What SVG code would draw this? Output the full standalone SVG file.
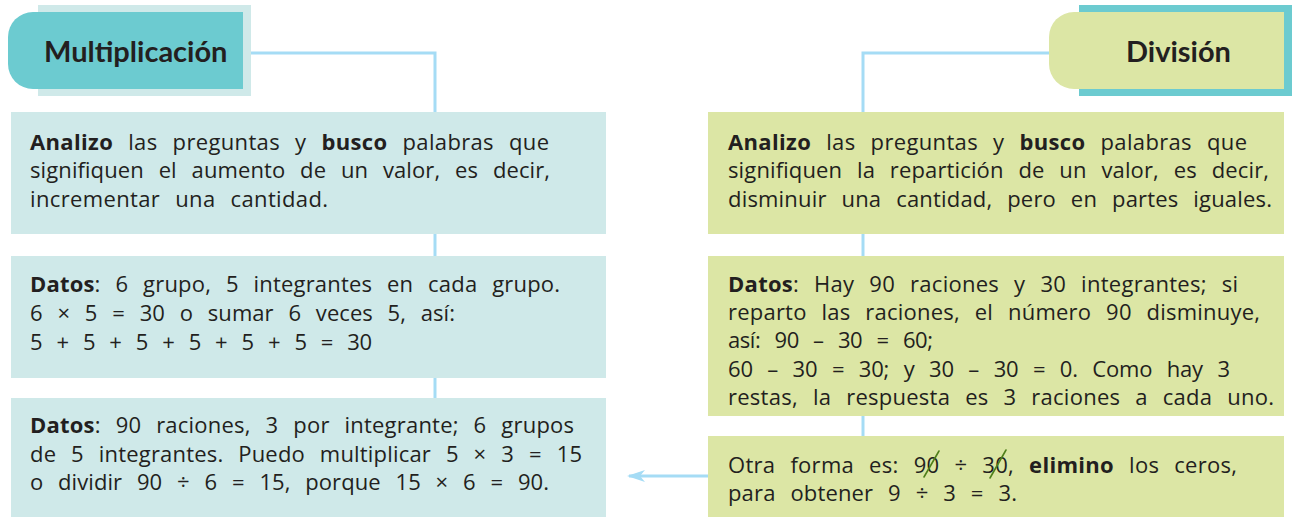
<svg xmlns="http://www.w3.org/2000/svg" width="1298" height="517" viewBox="0 0 1298 517">
<style>
.txt{font-family:"Open Sans","Liberation Sans",sans-serif;font-size:22px;fill:#231f20;word-spacing:9px}
.b{font-weight:bold}
.hd{font-family:Lato,"Liberation Sans",sans-serif;font-size:29px;font-weight:bold;fill:#231f20}
.boxm{fill:#cfe9e9}
.boxd{fill:#dce6a5}
.conn{fill:none;stroke:#a5dcf5;stroke-width:3}
.strike{stroke:#4f7f1a;stroke-width:1.6;stroke-linecap:round}
</style>
<defs>
<marker id="ah" markerWidth="20" markerHeight="14" refX="16" refY="7" orient="auto" markerUnits="userSpaceOnUse">
<path d="M18,7 L0,1 L5,7 L0,13 Z" fill="#a5dcf5"/>
</marker>
</defs>
<g id="connectors">
<polyline class="conn" points="251,53 435,53 435,112"/>
<line class="conn" x1="435" y1="234" x2="435" y2="256"/>
<line class="conn" x1="435" y1="378" x2="435" y2="398"/>
<polyline class="conn" points="1049,53 863,53 863,112"/>
<line class="conn" x1="863" y1="234" x2="863" y2="256"/>
<line class="conn" x1="863" y1="416" x2="863" y2="436"/>
<line class="conn" x1="708" y1="476" x2="629" y2="476" marker-end="url(#ah)"/>
</g>
<g id="hdr-mult">
<rect x="38" y="5" width="213" height="91" fill="#cfe9e9"/>
<path d="M243,12 H33 A25,25 0 0 0 8,37 V64 A25,25 0 0 0 33,89 H243 Z" fill="#6ccbd0"/>
<text class="hd" x="44" y="62">Multiplicación</text>
</g>
<g id="hdr-div">
<rect x="1079" y="5" width="213" height="91" fill="#6ccbd0"/>
<path d="M1284,12 H1074 A25,25 0 0 0 1049,37 V64 A25,25 0 0 0 1074,89 H1284 Z" fill="#dce6a5"/>
<text class="hd" x="1126" y="62">División</text>
</g>
<g id="m1">
<rect class="boxm" x="11" y="112" width="595" height="122"/>
<text class="txt" x="30" y="150" word-spacing="11.3" textLength="519" lengthAdjust="spacing"><tspan class="b">Analizo</tspan> las preguntas y <tspan class="b">busco</tspan> palabras que</text>
<text class="txt" x="30" y="178" word-spacing="9" textLength="520" lengthAdjust="spacing">signifiquen el aumento de un valor, es decir,</text>
<text class="txt" x="30" y="207" word-spacing="12" textLength="298" lengthAdjust="spacing">incrementar una cantidad.</text>
</g>
<g id="m2">
<rect class="boxm" x="11" y="256" width="595" height="122"/>
<text class="txt" x="30" y="292" word-spacing="10.1" textLength="530" lengthAdjust="spacing"><tspan class="b">Datos</tspan>: 6 grupo, 5 integrantes en cada grupo.</text>
<text class="txt" x="30" y="321" word-spacing="8.1" textLength="425" lengthAdjust="spacing">6 × 5 = 30 o sumar 6 veces 5, así:</text>
<text class="txt" x="30" y="350" word-spacing="8.2" textLength="342" lengthAdjust="spacing">5 + 5 + 5 + 5 + 5 + 5 = 30</text>
</g>
<g id="m3">
<rect class="boxm" x="11" y="398" width="595" height="119"/>
<text class="txt" x="30" y="433" word-spacing="10.3" textLength="544" lengthAdjust="spacing"><tspan class="b">Datos</tspan>: 90 raciones, 3 por integrante; 6 grupos</text>
<text class="txt" x="30" y="462" word-spacing="9.9" textLength="552" lengthAdjust="spacing">de 5 integrantes. Puedo multiplicar 5 × 3 = 15</text>
<text class="txt" x="30" y="490" word-spacing="7.8" textLength="519" lengthAdjust="spacing">o dividir 90 ÷ 6 = 15, porque 15 × 6 = 90.</text>
</g>
<g id="d1">
<rect class="boxd" x="708" y="112" width="576" height="122"/>
<text class="txt" x="728" y="150" word-spacing="11.3" textLength="519" lengthAdjust="spacing"><tspan class="b">Analizo</tspan> las preguntas y <tspan class="b">busco</tspan> palabras que</text>
<text class="txt" x="728" y="178" word-spacing="7.75" textLength="541" lengthAdjust="spacing">signifiquen la repartición de un valor, es decir,</text>
<text class="txt" x="728" y="207" word-spacing="10.5" textLength="544" lengthAdjust="spacing">disminuir una cantidad, pero en partes iguales.</text>
</g>
<g id="d2">
<rect class="boxd" x="708" y="256" width="576" height="160"/>
<text class="txt" x="728" y="292" word-spacing="11.9" textLength="510" lengthAdjust="spacing"><tspan class="b">Datos</tspan>: Hay 90 raciones y 30 integrantes; si</text>
<text class="txt" x="728" y="320" word-spacing="10" textLength="532" lengthAdjust="spacing">reparto las raciones, el número 90 disminuye,</text>
<text class="txt" x="728" y="348" word-spacing="7.4" textLength="205" lengthAdjust="spacing">así: 90 – 30 = 60;</text>
<text class="txt" x="728" y="377" word-spacing="9.1" textLength="502" lengthAdjust="spacing">60 – 30 = 30; y 30 – 30 = 0. Como hay 3</text>
<text class="txt" x="728" y="405" word-spacing="10.75" textLength="546" lengthAdjust="spacing">restas, la respuesta es 3 raciones a cada uno.</text>
</g>
<g id="d3">
<rect class="boxd" x="708" y="436" width="576" height="81"/>
<text class="txt" x="728" y="473" word-spacing="12" textLength="509" lengthAdjust="spacing">Otra forma es: 90 ÷ 30, <tspan class="b">elimino</tspan> los ceros,</text>
<line class="strike" x1="924" y1="477" x2="939" y2="451"/>
<line class="strike" x1="990" y1="478" x2="1006" y2="450"/>
<text class="txt" x="728" y="501" word-spacing="9.7" textLength="289" lengthAdjust="spacing">para obtener 9 ÷ 3 = 3.</text>
</g>
</svg>
